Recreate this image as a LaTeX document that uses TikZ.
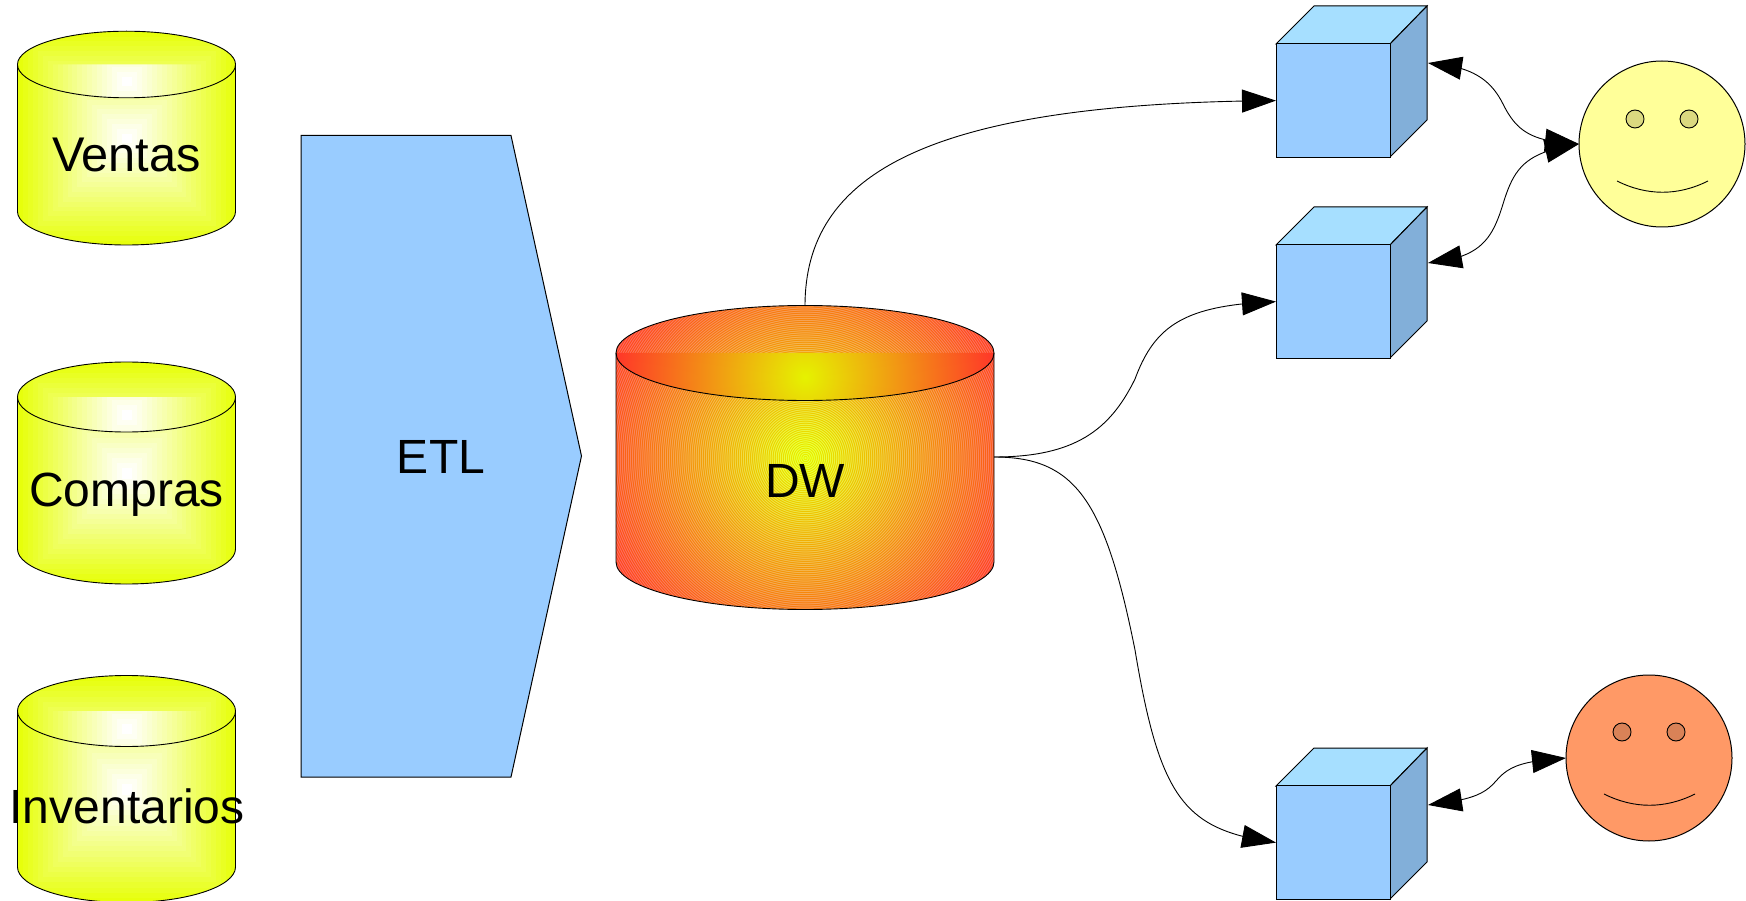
\documentclass[tikz,border=0pt]{standalone}
\usepackage{fontspec}
\setmainfont{Liberation Sans}
\usetikzlibrary{arrows.meta,bending}
\pgfdeclarefunctionalshading{yelrect}{\pgfpointorigin}{\pgfpoint{100bp}{100bp}}{}{
50 sub abs 25 div exch 50 sub abs 25 div 2 copy gt {pop} {exch pop} ifelse dup 1 gt {pop 1} if 22 mul floor 22 div dup 0.1 mul 1 exch sub exch 1 exch 1 exch sub
}
\pgfdeclarefunctionalshading{yelinner}{\pgfpointorigin}{\pgfpoint{100bp}{100bp}}{}{
50 sub abs 25 div 0.16 mul exch 50 sub abs 25 div 2 copy gt {pop} {exch pop} ifelse dup 1 gt {pop 1} if 22 mul floor 22 div dup 0.1 mul 1 exch sub exch 1 exch 1 exch sub
}
\pgfdeclarefunctionalshading{dwbody}{\pgfpointorigin}{\pgfpoint{100bp}{100bp}}{}{
50 sub 25 div 0.62 mul dup mul exch 50 sub 25 div 0.78 mul dup mul add sqrt dup 1 gt {pop 1} if dup 0.1 mul 0.91 add exch dup 0.75 mul 1 exch sub exch dup 42500 mul sin dup 0.06 mul 4 -1 roll add 3 1 roll 0.14 mul exch 0.16 mul add 0.1 add
}
\pgfdeclarefunctionalshading{dwinner}{\pgfpointorigin}{\pgfpoint{100bp}{100bp}}{}{
50 sub 25 div 0.126 mul dup mul exch 50 sub 25 div 0.99 mul dup mul add sqrt dup 1 gt {pop 1} if dup 0.1 mul 0.9 add exch dup 0.74 mul 0.95 exch sub exch 0.16 mul
}
\tikzset{
  >={Triangle[length=34pt,width=23pt]},
  outlined/.style={draw=black,line width=1pt,line join=miter},
  thinline/.style={draw=black,line width=0.9pt},
  link/.style={thinline},
  dbtext/.style={font=\fontsize{48}{58}\selectfont,anchor=base,inner sep=0pt,outer sep=0pt,text=black},
  ghost/.style={inner sep=0pt,outer sep=0pt,rectangle},
  cubefront/.style={outlined,fill=frontblue,inner sep=0pt,outer sep=0pt,rectangle,minimum width=114pt,minimum height=113.5pt},
  face/.style={outlined,circle,inner sep=0pt,outer sep=0pt,minimum size=166pt},
  eye/.style={draw=black,line width=0.9pt,circle,inner sep=0pt,outer sep=0pt,minimum size=18pt},
}
\definecolor{frontblue}{HTML}{99CCFF}
\definecolor{topblue}{HTML}{A6DFFF}
\definecolor{sideblue}{HTML}{82AFD9}
\definecolor{smileyellow}{HTML}{FFFF99}
\definecolor{eyeyellow}{HTML}{DBD980}
\definecolor{smileorange}{HTML}{FF9966}
\definecolor{eyeorange}{HTML}{D98257}
% #1 cx, #2 rx, #3 ellipse centre y, #4 lower centre y, #5 ry, #6 body shading, #7 inner shading
\newcommand\dbcyl[7]{%
  \path[shade,shading=#6] (#1-#2,#3) arc[start angle=180,end angle=360,x radius=#2,y radius=#5]
     -- (#1+#2,#4) arc[start angle=0,end angle=180,x radius=#2,y radius=#5] -- cycle;
  \path[shade,shading=#7] (#1-#2,#3) arc[start angle=180,end angle=0,x radius=#2,y radius=#5] -- cycle;
  \draw[thinline] (#1-#2,#3) arc[start angle=180,end angle=360,x radius=#2,y radius=#5]
     -- (#1+#2,#4) arc[start angle=0,end angle=180,x radius=#2,y radius=#5] -- cycle;
  \draw[thinline] (#1-#2,#3) arc[start angle=180,end angle=0,x radius=#2,y radius=#5];
}
% #1 name, #2 top y of cube
\newcommand\cubeat[2]{%
  \path[outlined,fill=topblue] (1276,#2+38) -- (1314,#2) -- (1427,#2) -- (1390,#2+38) -- cycle;
  \path[outlined,fill=sideblue] (1390,#2+38) -- (1427,#2) -- (1427,#2+114) -- (1390,#2+151) -- cycle;
  \node[cubefront] (#1) at (1333,#2+94.6) {};
}
\begin{document}
\begin{tikzpicture}[x=1pt,y=-1pt]
\useasboundingbox (0,0) rectangle (1746,901);
\fill[white] (0,0) rectangle (1746,901);

% source databases
\dbcyl{126.5}{109}{64.5}{211.7}{33.3}{yelrect}{yelinner}
\node[dbtext,font=\fontsize{48.7}{58}\selectfont] (ventas) at (126.5,172) {Ventas};
\dbcyl{126.5}{109}{397}{549}{35}{yelrect}{yelinner}
\node[dbtext] (compras) at (126.5,506) {Compras};
\dbcyl{126.5}{109}{711}{867}{35.5}{yelrect}{yelinner}
\node[dbtext] (inventarios) at (127,823) {Inventarios};

% ETL
\path[outlined,fill=frontblue] (301,135.5) -- (511,135.5) -- (581.5,456) -- (511,777) -- (301,777) -- cycle;
\node[dbtext] (etl) at (441,473) {ETL};

% data warehouse
\dbcyl{805}{189}{353}{562}{47.5}{dwbody}{dwinner}
\node[ghost,minimum width=378pt,minimum height=302pt] (dw) at (805,457) {};
\node[dbtext] (dwlabel) at (805,497) {DW};

% cubes
\cubeat{cube1}{6}
\cubeat{cube2}{207}
\cubeat{cube3}{748}
\coordinate (cube1r) at (1428,63);
\coordinate (cube2r) at (1428,263);
\coordinate (cube3r) at (1428,805);

% faces
\node[face,fill=smileyellow] (smile1) at (1662,144) {};
\node[eye,fill=eyeyellow] (s1eyeL) at (1635,119) {};
\node[eye,fill=eyeyellow] (s1eyeR) at (1689,119) {};
\draw[thinline] (1617,181) .. controls (1647,196) and (1678,196) .. (1708,181);
\node[face,fill=smileorange] (smile2) at (1649,758) {};
\node[eye,fill=eyeorange] (s2eyeL) at (1622,732) {};
\node[eye,fill=eyeorange] (s2eyeR) at (1676,732) {};
\draw[thinline] (1604,794) .. controls (1634,809) and (1665,809) .. (1695,794);

% connectors
\draw[link,->] (dw.north) .. controls (805,170) and (935,103) .. (cube1.west);
\draw[link,->] (dw.east) .. controls (1075,457) and (1110,430) .. (1135,379)
   .. controls (1155,325) and (1185,305) .. (cube2.west);
\draw[link,->] (dw.east) .. controls (1075,457) and (1105,500) .. (1135,650)
   .. controls (1160,800) and (1185,830) .. (cube3.west);
\draw[link,<->] (cube1r) .. controls (1470,66) and (1490,78) .. (1503,104)
   .. controls (1516,130) and (1530,142) .. (smile1.west);
\draw[link,<->] (cube2r) .. controls (1480,258) and (1492,240) .. (1503,204)
   .. controls (1514,168) and (1525,152) .. (smile1.west);
\draw[link,<->] (cube3r) .. controls (1470,800) and (1484,795) .. (1496,781)
   .. controls (1508,767) and (1520,761) .. (smile2.west);
\end{tikzpicture}
\end{document}
